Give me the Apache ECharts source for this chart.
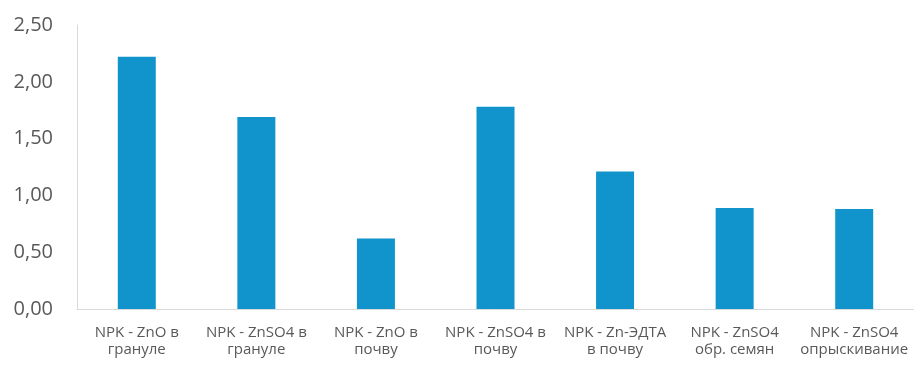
<!DOCTYPE html>
<html><head><meta charset="utf-8">
<script src="https://cdn.jsdelivr.net/npm/echarts@6/dist/echarts.min.js"></script>
<style>html,body{margin:0;padding:0;background:#fff}#c{width:914px;height:365px}</style>
</head><body><div id="c"></div>
<script>
const categories = ["NPK - ZnO в\nгрануле","NPK - ZnSO4 в\nгрануле","NPK - ZnO в\nпочву","NPK - ZnSO4 в\nпочву","NPK - Zn-ЭДТА\nв почву","NPK - ZnSO4\nобр. семян","NPK - ZnSO4\nопрыскивание"];
const values = [2.22, 1.69, 0.62, 1.78, 1.21, 0.89, 0.88];
const yTicks = {min: 0, max: 2.5, interval: 0.5};

const chart = echarts.init(document.getElementById('c'));
chart.setOption({
  animation: false,
  grid: {left: 77, right: 0, top: 25, bottom: 56},
  xAxis: {
    type: 'category', data: categories,
    axisLine: {lineStyle: {color: '#d9d9d9', width: 1}},
    axisTick: {show: false},
    axisLabel: {color: '#595959', fontSize: 15, fontFamily: 'Open Sans', lineHeight: 17, margin: 15, interval: 0}
  },
  yAxis: {
    type: 'value', min: yTicks.min, max: yTicks.max, interval: yTicks.interval,
    axisLine: {show: true, lineStyle: {color: '#d9d9d9', width: 1}},
    axisTick: {show: false},
    splitLine: {show: false},
    axisLabel: {color: '#595959', fontSize: 20, fontFamily: 'Open Sans', margin: 24,
      formatter: v => v.toFixed(2).replace('.', ',')}
  },
  series: [{type: 'bar', data: values, barWidth: 38, itemStyle: {color: '#1193cb'}}]
});
</script></body></html>
